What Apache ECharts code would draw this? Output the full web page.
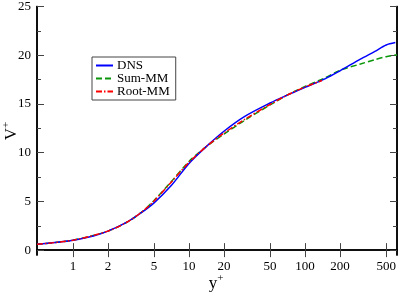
<!DOCTYPE html>
<html><head><meta charset="utf-8">
<script src="https://cdn.jsdelivr.net/npm/echarts@6/dist/echarts.min.js"></script>
<style>html,body{margin:0;padding:0;background:#fff}#c{width:399px;height:296px}</style>
</head><body><div id="c"></div>
<script>
var xTicks = [1, 2, 5, 10, 20, 50, 100, 200, 500];
var yTicks = [0, 5, 10, 15, 20, 25];
var yMinor = [2.5, 7.5, 12.5, 17.5, 22.5];

var dnsY = [0.49, 0.7, 1, 1.5, 2, 3, 4, 5, 7, 10, 14, 20, 30, 50, 70, 100, 150, 200, 300, 400, 500, 600];
var dnsV = [0.6, 0.78, 1.02, 1.45, 1.95, 2.95, 3.95, 4.85, 6.6, 8.9, 10.6, 12.2, 13.7, 15.1, 15.9, 16.7, 17.6, 18.4, 19.6, 20.4, 21.05, 21.3];

var sumY = [0.49, 1, 2, 3, 4, 5, 7, 10, 14, 20, 30, 50, 70, 100, 150, 200, 300, 400, 500, 620];
var sumV = [0.6, 1.02, 1.95, 2.95, 4.0, 5.1, 7.0, 9.1, 10.6, 11.9, 13.3, 14.9, 15.9, 16.8, 17.7, 18.45, 19.1, 19.55, 19.85, 20.05];

var rootY = [0.49, 1, 2, 3, 4, 5, 7, 10, 14, 20, 30, 50, 70, 100, 140];
var rootV = [0.6, 1.02, 1.95, 2.95, 4.0, 5.05, 6.95, 9.0, 10.6, 12.0, 13.4, 14.95, 15.9, 16.75, 17.4];

function pairs(a, b) { return a.map(function (v, i) { return [v, b[i]]; }); }

var serif = 'Liberation Serif';
var lineC = '#000';
function xAx(pos, labels) {
  return {
    type: 'log', min: 0.49, max: 620, position: pos,
    axisLine: { show: true, lineStyle: { color: lineC, width: 1.5 } },
    axisTick: { show: true, inside: true, length: 7, customValues: xTicks, lineStyle: { color: '#444', width: 1 } },
    axisLabel: { show: labels, customValues: xTicks, fontFamily: serif, fontSize: 13, color: '#000', margin: 5 },
    splitLine: { show: false }, minorTick: { show: false }
  };
}
function yAx(pos, labels, ticks, len) {
  return {
    type: 'value', min: -0.5, max: 25, position: pos,
    axisLine: { show: true, lineStyle: { color: lineC, width: 1.5 } },
    axisTick: { show: true, inside: true, length: len, customValues: ticks, lineStyle: { color: '#444', width: 1 } },
    axisLabel: { show: labels, customValues: yTicks, fontFamily: serif, fontSize: 13, color: '#000', margin: 6 },
    splitLine: { show: false }
  };
}

var chart = echarts.init(document.getElementById('c'));
chart.setOption({
  animation: false,
  backgroundColor: '#fff',
  grid: { left: 37, right: 2, top: 5, bottom: 41, containLabel: false },
  xAxis: [xAx('bottom', true), xAx('top', false)],
  yAxis: [yAx('left', true, yTicks, 7), yAx('right', false, yTicks, 7), yAx('left', false, yMinor, 4), yAx('right', false, yMinor, 4)],
  legend: {
    orient: 'vertical', left: 92, top: 57,
    data: ['DNS', 'Sum-MM', 'Root-MM'],
    itemWidth: 17, itemHeight: 8, itemGap: 0,
    padding: [2, 6, 2, 3],
    itemStyle: { opacity: 0 },
    borderColor: '#444', borderWidth: 1, borderRadius: 0,
    textStyle: { fontFamily: serif, fontSize: 13, color: '#000', lineHeight: 13, padding: [0, 0, 0, -1] }
  },
  graphic: [
    { type: 'text', x: 216, y: 284, style: { text: '{a|y}{b|+}', rich: { a: { fontFamily: serif, fontSize: 17, fill: '#000' }, b: { fontFamily: serif, fontSize: 11, fill: '#000', padding: [0, 0, 12, 0] } }, align: 'center', verticalAlign: 'middle' } },
    { type: 'text', x: 12, y: 131, rotation: Math.PI / 2, style: { text: '{a|V}{b|+}', rich: { a: { fontFamily: serif, fontSize: 17, fill: '#000' }, b: { fontFamily: serif, fontSize: 11, fill: '#000', padding: [0, 0, 12, 0] } }, align: 'center', verticalAlign: 'middle' } }
  ],
  series: [
    { name: 'Sum-MM', type: 'line', data: pairs(sumY, sumV), showSymbol: false, symbol: 'none', smooth: 0.3,
      lineStyle: { color: '#0a960a', width: 1.5, type: [6, 3] }, itemStyle: { color: '#0a960a' } },
    { name: 'DNS', type: 'line', data: pairs(dnsY, dnsV), showSymbol: false, symbol: 'none', smooth: 0.3,
      lineStyle: { color: '#0000ff', width: 1.5 }, itemStyle: { color: '#0000ff' } },
    { name: 'Root-MM', type: 'line', data: pairs(rootY, rootV), showSymbol: false, symbol: 'none', smooth: 0.3,
      lineStyle: { color: '#ff0000', width: 1.5, type: [6, 2, 1.5, 2] }, itemStyle: { color: '#ff0000' } }
  ]
});
</script>
</body></html>
